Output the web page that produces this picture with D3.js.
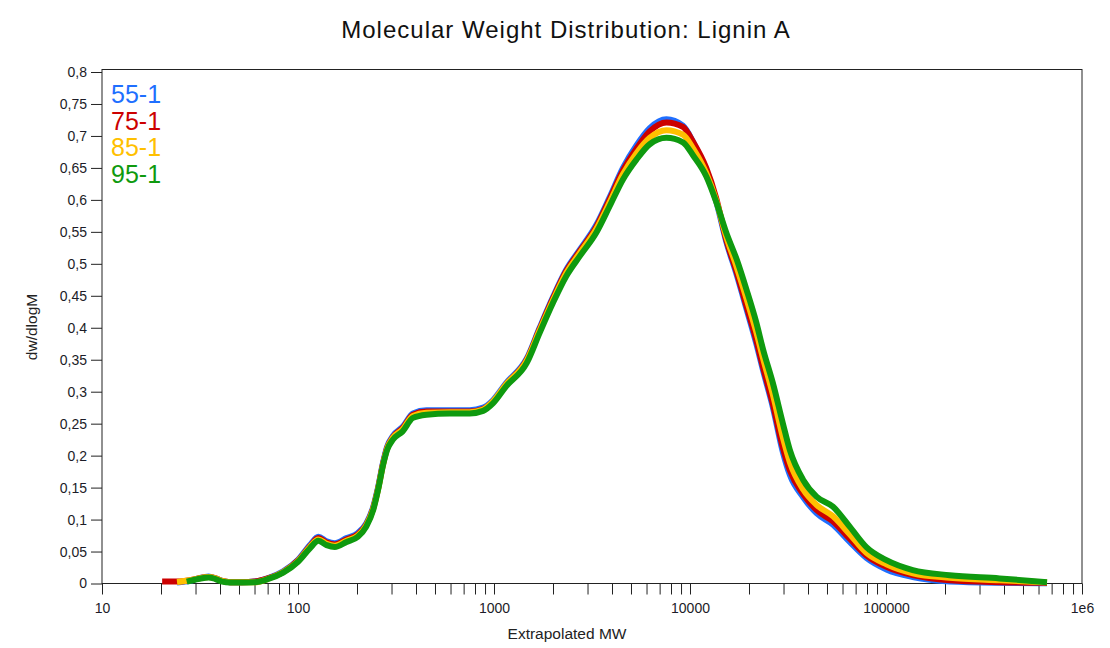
<!DOCTYPE html>
<html>
<head>
<meta charset="utf-8">
<script src="https://cdn.jsdelivr.net/npm/d3@7"></script>
<style>
  body { margin: 0; background: #fff; }
  svg { font-family: Arial, "Liberation Sans", sans-serif; }
</style>
</head>
<body>
<svg width="1110" height="648"></svg>
<script>
const seriesNames = ['55-1', '75-1', '85-1', '95-1'];
const seriesColors = ['#1f6fff', '#cc0000', '#ffc000', '#0f9a0f'];

const mw = [21, 23, 25, 28, 31, 35, 38, 41, 45, 52, 60, 70, 84, 100, 115, 127, 140, 154, 177, 202,
  223, 242, 256, 272, 285, 305, 342, 386, 452, 594, 752, 880, 990, 1150, 1470, 1710, 2000, 2340,
  2740, 3330, 3890, 4550, 5330, 6230, 7580, 9200, 10400, 12100, 13600, 15300, 17300, 19400, 21800,
  23600, 26500, 29800, 32300, 37800, 44200, 53700, 65300, 79400, 100500, 137000, 211000, 380000, 640000];

const vals55 = [null, null, 0.002, 0.004, 0.008, 0.011, 0.008, 0.004, 0.002, 0.002, 0.003, 0.008, 0.019,
  0.037, 0.060, 0.073, 0.066, 0.063, 0.071, 0.079, 0.094, 0.120, 0.150, 0.190, 0.214, 0.231, 0.245,
  0.266, 0.271, 0.271, 0.271, 0.275, 0.287, 0.313, 0.352, 0.400, 0.448, 0.491, 0.522, 0.561, 0.604,
  0.650, 0.685, 0.712, 0.726, 0.716, 0.690, 0.645, 0.598, 0.535, 0.483, 0.430, 0.375, 0.333, 0.275,
  0.205, 0.170, 0.135, 0.110, 0.092, 0.065, 0.040, 0.022, 0.010, 0.003, 0.001, 0.0005];
const vals75 = [0.003, 0.003, 0.003, 0.005, 0.008, 0.010, 0.008, 0.004, 0.002, 0.002, 0.003, 0.008, 0.018,
  0.036, 0.058, 0.071, 0.064, 0.061, 0.069, 0.077, 0.092, 0.118, 0.148, 0.188, 0.212, 0.229, 0.243,
  0.264, 0.269, 0.269, 0.269, 0.273, 0.285, 0.311, 0.350, 0.398, 0.446, 0.489, 0.520, 0.558, 0.601,
  0.646, 0.680, 0.707, 0.721, 0.714, 0.690, 0.650, 0.603, 0.538, 0.487, 0.434, 0.380, 0.338, 0.280,
  0.212, 0.177, 0.140, 0.115, 0.097, 0.070, 0.044, 0.026, 0.013, 0.005, 0.002, 0.001];
const vals85 = [null, null, 0.003, 0.005, 0.008, 0.010, 0.008, 0.004, 0.002, 0.002, 0.002, 0.007, 0.018,
  0.035, 0.057, 0.069, 0.062, 0.059, 0.067, 0.075, 0.091, 0.117, 0.147, 0.187, 0.211, 0.228, 0.241,
  0.262, 0.267, 0.268, 0.268, 0.272, 0.285, 0.311, 0.349, 0.396, 0.443, 0.486, 0.517, 0.555, 0.596,
  0.640, 0.673, 0.697, 0.709, 0.702, 0.680, 0.642, 0.599, 0.543, 0.495, 0.446, 0.393, 0.352, 0.295,
  0.228, 0.190, 0.147, 0.123, 0.105, 0.077, 0.048, 0.030, 0.016, 0.009, 0.005, 0.002];
const vals95 = [null, null, null, 0.004, 0.007, 0.0095, 0.007, 0.003, 0.0016, 0.0016, 0.002, 0.0067, 0.017,
  0.034, 0.055, 0.067, 0.060, 0.057, 0.065, 0.073, 0.089, 0.115, 0.146, 0.186, 0.209, 0.225, 0.238,
  0.259, 0.264, 0.266, 0.266, 0.270, 0.282, 0.308, 0.345, 0.392, 0.439, 0.481, 0.512, 0.549, 0.590,
  0.632, 0.663, 0.687, 0.697, 0.690, 0.669, 0.637, 0.597, 0.549, 0.507, 0.460, 0.408, 0.366, 0.313,
  0.250, 0.209, 0.162, 0.136, 0.120, 0.089, 0.057, 0.0365, 0.021, 0.013, 0.008, 0.0025];

const xTicks = [];
for (let p = 10; p < 1e6; p *= 10) {
  for (let k = 1; k < 10; k++) xTicks.push(p * k);
}
xTicks.push(1e6);
const yTicks = d3.range(0, 17).map(i => i * 0.05);

function createViz() {
  const svg = d3.select('svg');
  const left = 102;
  const right = 1082;
  const top = 69.5;
  const bottom = 583.5;

  const xScale = d3.scaleLog()
      .domain([10, 1e6])
      .range([left, right]);
  const yScale = d3.scaleLinear()
      .domain([0, 0.8])
      .range([bottom, 72]);

  const comma = d3.formatLocale({decimal: ',', thousands: '.', grouping: [3], currency: ['', '']});
  const yFmt = comma.format('.2~f');
  const xFmt = d => {
    const e = Math.log10(d);
    if (Math.abs(e - Math.round(e)) > 1e-9) return '';
    return d >= 1e6 ? '1e6' : String(Math.round(d));
  };

  // frame
  svg.append('rect')
      .attr('x', left)
      .attr('y', top)
      .attr('width', right - left)
      .attr('height', bottom - top)
      .style('fill', 'none')
      .style('stroke', '#222')
      .style('stroke-width', 1);

  const xAxis = d3.axisBottom()
      .scale(xScale)
      .tickValues(xTicks)
      .tickFormat(xFmt)
      .tickSize(11)
      .tickSizeOuter(0)
      .tickPadding(9);
  svg.append('g')
      .attr('id', 'xAxisG')
      .attr('transform', `translate(0, ${bottom})`)
      .call(xAxis);

  const yAxis = d3.axisLeft()
      .scale(yScale)
      .tickValues(yTicks)
      .tickFormat(yFmt)
      .tickSize(11)
      .tickSizeOuter(0)
      .tickPadding(4);
  svg.append('g')
      .attr('id', 'yAxisG')
      .attr('transform', `translate(${left}, 0)`)
      .call(yAxis);

  svg.selectAll('#xAxisG path.domain, #yAxisG path.domain').remove();
  svg.selectAll('.tick line').style('stroke', '#222');
  svg.selectAll('.tick text')
      .style('font-size', '14px')
      .style('font-family', 'Arial, "Liberation Sans", sans-serif')
      .style('fill', '#1c1c28');

  // curves
  const allVals = [vals55, vals75, vals85, vals95];
  const line = d3.line()
      .defined(d => d.v !== null)
      .x(d => xScale(d.m))
      .y(d => yScale(d.v))
      .curve(d3.curveMonotoneX);
  allVals.forEach((vals, i) => {
    const pts = mw.map((m, j) => ({m: m, v: vals[j]}));
    svg.append('path')
        .datum(pts)
        .attr('class', 'series')
        .attr('d', line)
        .style('fill', 'none')
        .style('stroke', seriesColors[i])
        .style('stroke-width', 6)
        .style('stroke-linejoin', 'round')
        .style('stroke-linecap', 'square');
  });

  // legend
  svg.selectAll('text.legend')
      .data(seriesNames)
      .enter()
      .append('text')
      .attr('class', 'legend')
      .attr('x', 111)
      .attr('y', (d, i) => 103 + i * 26.7)
      .style('font-size', '25px')
      .style('fill', (d, i) => seriesColors[i])
      .text(d => d);

  // titles
  svg.append('text')
      .attr('x', 566)
      .attr('y', 38)
      .attr('text-anchor', 'middle')
      .style('font-size', '24px')
      .style('letter-spacing', '1px')
      .style('fill', '#111')
      .text('Molecular Weight Distribution: Lignin A');
  svg.append('text')
      .attr('x', 567)
      .attr('y', 639)
      .attr('text-anchor', 'middle')
      .style('font-size', '15.5px')
      .style('fill', '#222')
      .text('Extrapolated MW');
  svg.append('text')
      .attr('transform', 'translate(37, 327) rotate(-90)')
      .attr('text-anchor', 'middle')
      .style('font-size', '15.5px')
      .style('fill', '#222')
      .text('dw/dlogM');
}

createViz();
</script>
</body>
</html>
